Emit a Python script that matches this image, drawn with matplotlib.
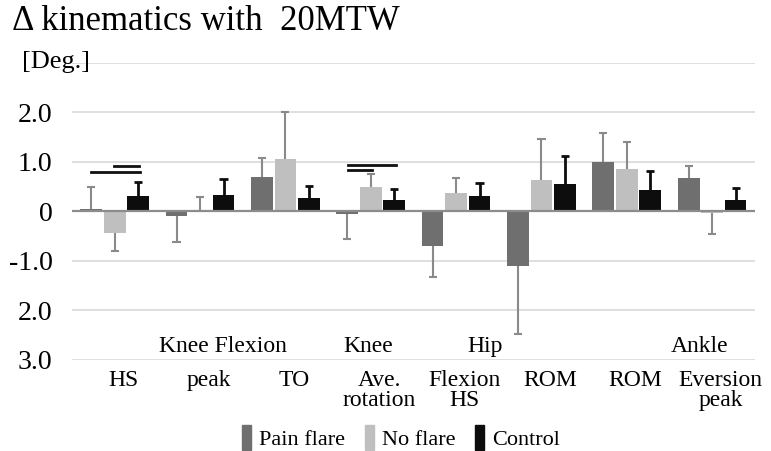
import numpy as np
import matplotlib
matplotlib.use("Agg")
import matplotlib.pyplot as plt
from matplotlib.patches import Patch

plt.rcParams['font.family'] = ['Liberation Serif', 'DejaVu Serif']

# data (degrees)
sub_labels = ["HS", "peak", "TO", "Ave.\nrotation", "Flexion\nHS", "ROM", "ROM", "Eversion\npeak"]
group_labels = ["Knee Flexion", "Knee", "Hip", "Ankle"]
group_label_pos = [1.27, 2.97, 4.34, 6.85]
series = ["Pain flare", "No flare", "Control"]

pain = [0.05, -0.09, 0.70, -0.05, -0.70, -1.11, 0.99, 0.67]
pain_err = [0.44, 0.53, 0.37, 0.50, 0.63, 1.36, 0.60, 0.24]
noflare = [-0.43, 0.03, 1.05, 0.49, 0.37, 0.63, 0.86, -0.04]
noflare_err = [0.38, 0.26, 0.96, 0.27, 0.31, 0.83, 0.54, 0.41]
control = [0.30, 0.33, 0.27, 0.23, 0.30, 0.56, 0.43, 0.23]
control_err = [0.29, 0.32, 0.24, 0.22, 0.28, 0.55, 0.38, 0.25]

# significance bars: (x start, x end, y)
sig_lines = [(-0.28, 0.30, 0.80), (-0.01, 0.285, 0.91),
             (2.73, 3.30, 0.94), (2.73, 3.02, 0.83)]

yticks = [3, 2, 1, 0, -1, -2, -3]
ytick_labels = ["", "2.0", "1.0", "0", "-1.0", "2.0", "3.0"]

colors = ["#6f6f6f", "#bfbfbf", "#0d0d0d"]
err_colors = ["#8a8a8a", "#8a8a8a", "#0d0d0d"]
err_lw = [1.5, 1.5, 2.0]

fig = plt.figure(figsize=(7.71, 4.51), dpi=100)
ax = fig.add_axes([0.0934, 0.2018, 0.9856 - 0.0934 - 0.0066, 0.861 - 0.2018])

x = np.arange(len(sub_labels))
width = 0.255
offsets = [-0.275, 0.0, 0.275]
cap = 0.048

for i, (vals, errs) in enumerate([(pain, pain_err), (noflare, noflare_err), (control, control_err)]):
    vals = np.array(vals)
    errs = np.array(errs)
    xs = x + offsets[i]
    tips = vals + np.sign(vals) * errs
    ax.bar(xs, vals, width, color=colors[i], zorder=3, label=series[i])
    # one-sided error bars, cap only at the tip
    ax.vlines(xs, vals, tips, color=err_colors[i], lw=err_lw[i], zorder=4)
    ax.hlines(tips, xs - cap, xs + cap, color=err_colors[i], lw=err_lw[i], zorder=4)

for x0, x1, y in sig_lines:
    ax.plot([x0, x1], [y, y], color="#111111", lw=2, zorder=5)

ax.set_xlim(-0.5, len(sub_labels) - 0.5)
ax.set_ylim(-3, 3)
ax.set_yticks(yticks)
ax.set_yticklabels(ytick_labels, fontsize=20)
ax.tick_params(axis="y", length=0, pad=14)
ax.set_xticks([])
ax.yaxis.grid(True, color="#d9d9d9", lw=1.2, zorder=0)
ax.axhline(0, color="#8c8c8c", lw=1.6, zorder=3.5)
for s in ax.spines.values():
    s.set_visible(False)

for xi, lab in zip(x, sub_labels):
    ax.text(xi + 0.1, -3.2, lab, ha="center", va="top", fontsize=17,
            linespacing=0.95)
for pos, lab in zip(group_label_pos, group_labels):
    ax.text(pos, -2.72, lab, ha="center", va="center", fontsize=17)

fig.text(0.016, 0.952, "Δ kinematics with  20MTW", fontsize=25, va="center", ha="left")
fig.text(0.028, 0.862, "[Deg.]", fontsize=19, va="center", ha="left")

handles = [Patch(color=c) for c in colors]
fig.legend(handles, series, loc="center", bbox_to_anchor=(0.52, 0.03),
           ncol=3, frameon=False, fontsize=16, handlelength=0.4, handleheight=1.4,
           handletextpad=0.35, columnspacing=0.9, borderaxespad=0)

fig.savefig("out.png", dpi=100)
